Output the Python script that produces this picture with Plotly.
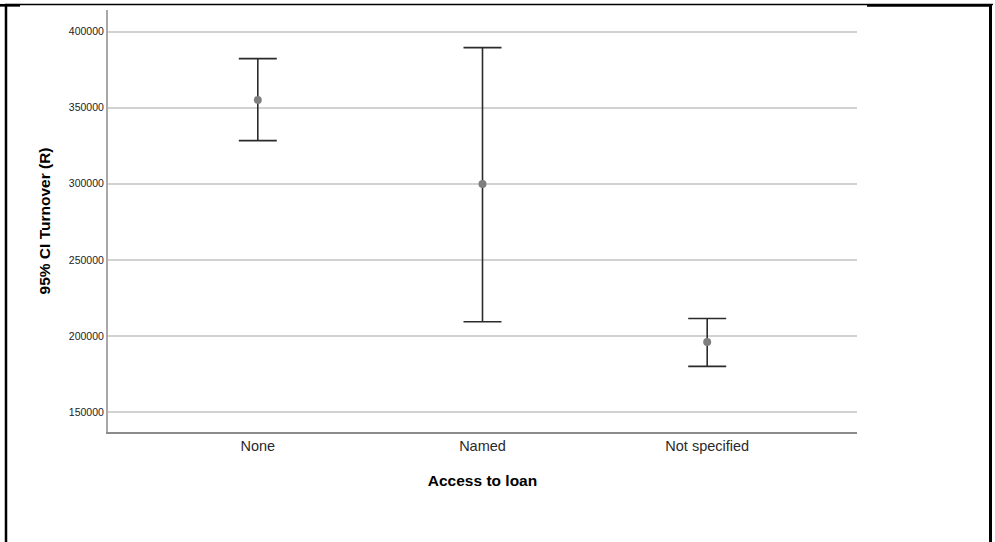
import plotly.graph_objects as go

# Access-to-loan groups and 95% confidence intervals of turnover (R)
categories = ["None", "Named", "Not specified"]
means = [355100, 299800, 196000]
ci_lower = [328400, 209300, 180000]
ci_upper = [382300, 389500, 211500]

y_ticks = [150000, 200000, 250000, 300000, 350000, 400000]

err_plus = [u - m for u, m in zip(ci_upper, means)]
err_minus = [m - l for l, m in zip(ci_lower, means)]

W, H = 995, 542
ML, MR, MT, MB = 108, 138, 10, 110

fig = go.Figure()
fig.add_trace(go.Scatter(
    x=[0, 1, 2],
    y=means,
    mode="markers",
    marker=dict(color="#7f7f7f", size=8, line=dict(width=0)),
    error_y=dict(
        type="data", symmetric=False,
        array=err_plus, arrayminus=err_minus,
        color="#2b2b2b", thickness=1.6, width=19,
    ),
    showlegend=False,
    hoverinfo="skip",
))

# frame around the figure, positioned in pixels and converted to paper units
pw, ph = W - ML - MR, H - MT - MB


def px(x):
    return (x - ML) / pw


def py(y):
    return (H - MB - y) / ph


frame = [
    (6, 4, 6, 542, 2.5),
    (990.5, 4, 990.5, 542, 3),
    (5, 4.5, 993, 4.5, 1.5),
    (0, 5.3, 20, 5.3, 2.7),
    (867, 5.3, 992, 5.3, 2.7),
]
shapes = [
    dict(type="line", xref="paper", yref="paper",
         x0=px(a), y0=py(b), x1=px(c), y1=py(d),
         line=dict(color="#000000", width=w))
    for a, b, c, d, w in frame
]

fig.update_layout(
    width=W, height=H,
    margin=dict(l=ML, r=MR, t=MT, b=MB),
    paper_bgcolor="white",
    plot_bgcolor="white",
    font=dict(family="Liberation Sans, Arial, sans-serif", color="#222222"),
    shapes=shapes,
    xaxis=dict(
        range=[-2 / 3, 2 + 2 / 3],
        tickmode="array", tickvals=[0, 1, 2], ticktext=categories,
        tickfont=dict(size=14.5, color="#2a2a2a"),
        showgrid=False, zeroline=False,
        showline=True, linecolor="#8c8c8c", linewidth=2,
        ticks="", ticklen=0,
        title=dict(text="<b>Access to loan</b>", font=dict(size=15.5, color="#000000"),
                   standoff=22),
    ),
    yaxis=dict(
        range=[136850, 414260],
        tickmode="array", tickvals=y_ticks,
        ticktext=[str(v) for v in y_ticks],
        tickfont=dict(size=10.5, color="#222222"),
        showgrid=True, gridcolor="#d2d2d2", gridwidth=1.5,
        zeroline=False,
        showline=True, linecolor="#a8a8a8", linewidth=2,
        ticks="", ticklen=0,
        title=dict(text="<b>95% CI Turnover (R)</b>", font=dict(size=15.5, color="#000000"),
                   standoff=14),
    ),
)

fig.write_html("out.html")
